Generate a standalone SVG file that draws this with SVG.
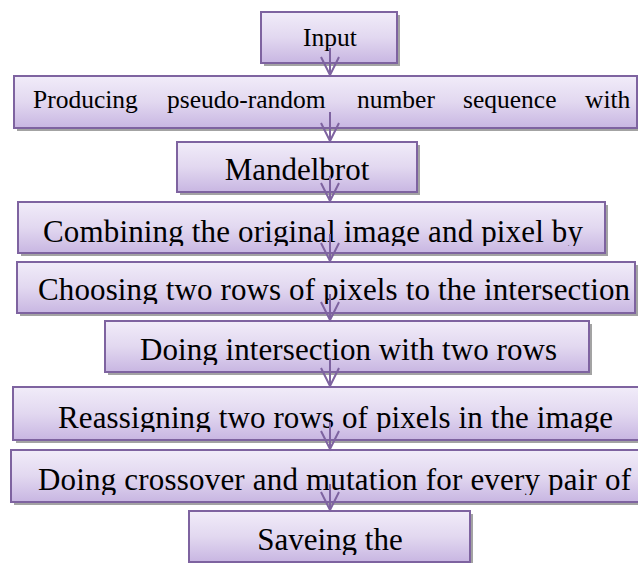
<svg xmlns="http://www.w3.org/2000/svg" width="638" height="563" viewBox="0 0 638 563">
<defs>
<linearGradient id="g" x1="0" y1="0" x2="0" y2="1">
<stop offset="0" stop-color="#F1ECF9"/>
<stop offset="0.5" stop-color="#E2D8F0"/>
<stop offset="1" stop-color="#C8B6E2"/>
</linearGradient>
<clipPath id="c4"><rect x="18" y="202" width="587" height="44"/></clipPath>
<clipPath id="c5"><rect x="17" y="262" width="618" height="42"/></clipPath>
<clipPath id="c6"><rect x="105" y="321" width="484" height="44"/></clipPath>
<clipPath id="c7"><rect x="13" y="387" width="629" height="45"/></clipPath>
<clipPath id="c8"><rect x="11" y="450" width="631" height="45"/></clipPath>
<clipPath id="c9"><rect x="189" y="511" width="281" height="44"/></clipPath>
</defs>
<style>
.sh{fill:#A3A3A3}
.bx{fill:url(#g);stroke:#7E63A0;stroke-width:2}
.t{font-family:"Liberation Serif","Times New Roman",serif;fill:#000}
.s{font-size:25.5px}
.l{font-size:31px}
.ar{fill:none;stroke:#7E63A0;stroke-width:2}
</style>
<g id="n1">
<rect class="sh" x="264" y="15" width="136" height="51"/>
<rect class="bx" x="261" y="12" width="136" height="51"/>
<text class="t s" x="330" y="46" text-anchor="middle">Input</text>
</g>
<g id="n2">
<rect class="sh" x="17" y="79" width="623" height="52"/>
<rect class="bx" x="14" y="76" width="623" height="52"/>
<text class="t s" y="108"><tspan x="33">Producing</tspan><tspan x="167">pseudo-random</tspan><tspan x="357">number</tspan><tspan x="463">sequence</tspan><tspan x="585">with</tspan></text>
</g>
<g id="n3">
<rect class="sh" x="180" y="145" width="240" height="50"/>
<rect class="bx" x="177" y="142" width="240" height="50"/>
<text class="t l" x="297" y="180" text-anchor="middle">Mandelbrot</text>
</g>
<g id="n4">
<rect class="sh" x="21" y="205" width="587" height="51"/>
<rect class="bx" x="18" y="202" width="587" height="51"/>
<text class="t l" x="43" y="242" textLength="540" clip-path="url(#c4)">Combining the original image and pixel by</text>
</g>
<g id="n5">
<rect class="sh" x="20" y="265" width="618" height="51"/>
<rect class="bx" x="17" y="262" width="618" height="51"/>
<text class="t l" x="38" y="300" textLength="592" clip-path="url(#c5)">Choosing two rows of pixels to the intersection</text>
</g>
<g id="n6">
<rect class="sh" x="108" y="324" width="484" height="51"/>
<rect class="bx" x="105" y="321" width="484" height="51"/>
<text class="t l" x="140" y="360" textLength="417" clip-path="url(#c6)">Doing intersection with two rows</text>
</g>
<g id="n7">
<rect class="sh" x="16" y="390" width="629" height="53"/>
<rect class="bx" x="13" y="387" width="629" height="53"/>
<text class="t l" x="58" y="428" textLength="555" clip-path="url(#c7)">Reassigning two rows of pixels in the image</text>
</g>
<g id="n8">
<rect class="sh" x="14" y="453" width="631" height="52"/>
<rect class="bx" x="11" y="450" width="631" height="52"/>
<text class="t l" x="38" y="490" textLength="593" clip-path="url(#c8)">Doing crossover and mutation for every pair of</text>
</g>
<g id="n9">
<rect class="sh" x="192" y="514" width="281" height="51"/>
<rect class="bx" x="189" y="511" width="281" height="51"/>
<text class="t l" x="330" y="550" text-anchor="middle" clip-path="url(#c9)">Saveing the</text>
</g>
<g id="connectors">
<path class="ar" d="M330 48V75M321 57L330 75L339 57"/>
<path class="ar" d="M330 112V141M321 123L330 141L339 123"/>
<path class="ar" d="M330 176V201M321 183L330 201L339 183"/>
<path class="ar" d="M330 234V261M321 243L330 261L339 243"/>
<path class="ar" d="M330 294V320M321 302L330 320L339 302"/>
<path class="ar" d="M330 358V386M321 368L330 386L339 368"/>
<path class="ar" d="M330 422V449M321 431L330 449L339 431"/>
<path class="ar" d="M330 484V510M321 492L330 510L339 492"/>
</g>
</svg>
